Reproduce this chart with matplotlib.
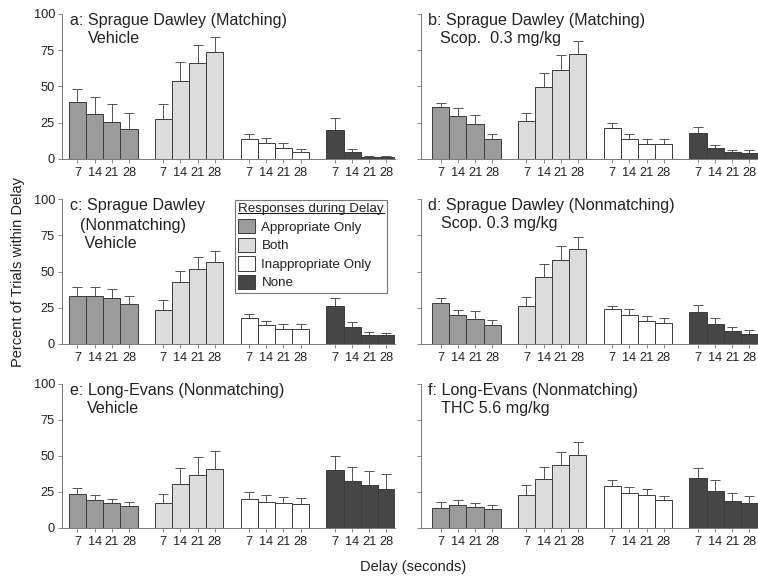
import matplotlib
matplotlib.use('Agg')
import matplotlib.pyplot as plt
import numpy as np
from matplotlib.patches import Patch
from matplotlib.lines import Line2D

plt.rcParams['font.family'] = ['Liberation Sans', 'DejaVu Sans']

delays = ['7', '14', '21', '28']
categories = ['Appropriate Only', 'Both', 'Inappropriate Only', 'None']
colors = ['#9b9b9b', '#dcdcdc', '#ffffff', '#464646']

titles = [['a: Sprague Dawley (Matching)', 'Vehicle'],
          ['b: Sprague Dawley (Matching)', 'Scop.  0.3 mg/kg'],
          ['c: Sprague Dawley', '(Nonmatching)', ' Vehicle'],
          ['d: Sprague Dawley (Nonmatching)', 'Scop. 0.3 mg/kg'],
          ['e: Long-Evans (Nonmatching)', 'Vehicle'],
          ['f: Long-Evans (Nonmatching)', 'THC 5.6 mg/kg']]
indents = [18, 12, 10, 13, 17, 13]

# mean values, per panel: [appropriate, both, inappropriate, none] x delays
means_a = [[39, 31.2, 25.7, 20.9], [27.5, 53.9, 66, 73.6], [13.8, 11, 7.6, 4.8], [20.2, 4.6, 1.5, 1.2]]
errs_a = [[9.4, 11.9, 12.1, 10.8], [10.3, 13.3, 12.4, 10.6], [3.2, 3.7, 3.4, 2.1], [7.8, 2.3, 0.8, 0.6]]
means_b = [[35.6, 29.4, 24.3, 13.5], [25.9, 49.8, 61.2, 72.2], [21.6, 14, 10.6, 10.3], [17.9, 7.3, 4.8, 4.4]]
errs_b = [[2.7, 5.5, 6, 3.7], [6, 9.6, 10.6, 9], [3.4, 3.2, 2.9, 3.2], [4.3, 2.6, 1.6, 2]]
means_c = [[33.1, 33.1, 32, 27.4], [23.7, 42.5, 51.5, 56.8], [17.7, 13.1, 10.6, 10.3], [26.4, 11.7, 6.2, 6]]
errs_c = [[6.2, 5.9, 5.9, 5.9], [6.9, 8.1, 8.3, 7.3], [2.8, 2.8, 3, 3.3], [5.1, 3.5, 1.8, 1.8]]
means_d = [[28.3, 20, 17.5, 13.1], [26, 46, 57.7, 65.3], [23.9, 20.2, 15.9, 14.3], [22.3, 14, 9, 6.9]]
errs_d = [[3.2, 3.2, 5, 3.5], [6.2, 9.2, 9.9, 8.7], [2.1, 3.7, 3.2, 3.6], [4.8, 3.9, 2.7, 3]]
means_e = [[23.3, 19.4, 17.1, 15.5], [17.3, 30.7, 37, 41.3], [20.1, 18.2, 17.3, 16.6], [40, 32.3, 29.6, 27.3]]
errs_e = [[4.2, 3.2, 3, 2.5], [6.3, 10.9, 12.2, 12.5], [4.6, 4.7, 3.9, 4.4], [9.9, 10.4, 10.1, 10.1]]
means_f = [[13.9, 15.9, 14.8, 13.4], [23.1, 33.9, 43.6, 50.6], [29.3, 24.5, 22.9, 19.2], [34.4, 25.9, 19, 17.1]]
errs_f = [[4.3, 3.5, 2.5, 2.8], [6.7, 8.6, 9.1, 9.2], [4, 4.1, 4.1, 3.2], [7.2, 7.1, 5.2, 5.1]]

panel_means = [means_a, means_b, means_c, means_d, means_e, means_f]
panel_errs = [errs_a, errs_b, errs_c, errs_d, errs_e, errs_f]

fig = plt.figure(figsize=(7.58, 5.8), dpi=100)

col_x = [(62, 333), (421, 337)]
row_y = [(14, 159), (199, 344), (384, 528)]
W, H = 758.0, 580.0

edge = '#3c3c3c'
spine_c = '#777777'
txt_c = '#222222'
axes = []
for p in range(6):
    r, c = p // 2, p % 2
    x0, w = col_x[c]
    top, bot = row_y[r]
    ax = fig.add_axes([x0 / W, 1 - bot / H, w / W, (bot - top) / H])
    axes.append(ax)
    xlim_left = -0.9 if c == 0 else -1.15
    centers = []
    for g in range(4):
        xs = np.arange(4) + g * 5
        centers.extend(xs)
        ax.bar(xs, panel_means[p][g], width=1.0, color=colors[g], edgecolor=edge,
               linewidth=0.7, zorder=2)
        ax.errorbar(xs, panel_means[p][g], yerr=[np.zeros(4), panel_errs[p][g]],
                    fmt='none', ecolor='#555555', elinewidth=0.7, capsize=3.5,
                    capthick=0.7, zorder=1)
    ax.set_xlim(xlim_left, 18.5)
    ax.set_ylim(0, 100)
    ax.set_yticks([0, 25, 50, 75, 100])
    ax.set_xticks(centers)
    ax.set_xticklabels(delays * 4, fontsize=9.2)
    if c == 1:
        ax.set_yticklabels([])
    else:
        ax.tick_params(axis='y', labelsize=9.2)
    ax.tick_params(axis='both', length=3, width=0.6, color=spine_c, pad=2, labelcolor=txt_c)
    ax.tick_params(axis='x', pad=3)
    for s in ['top', 'right']:
        ax.spines[s].set_visible(False)
    for s in ['left', 'bottom']:
        ax.spines[s].set_color(spine_c)
        ax.spines[s].set_linewidth(0.7)
    # title lines, first line at the left, others indented
    tx = x0 + (8 if c == 0 else 7)
    for k, line in enumerate(titles[p]):
        ty = top + 7 + k * (19 if len(titles[p]) > 2 else 17.5)
        fig.text((tx + (indents[p] if k > 0 else 0)) / W, 1 - ty / H, line,
                 fontsize=11.6, va='center', ha='left', color=txt_c)

handles = [Patch(facecolor=colors[i], edgecolor=edge, linewidth=0.7, label=categories[i])
           for i in range(4)]
leg = fig.legend(handles=handles, title='Responses during Delay', loc='upper right',
                 bbox_to_anchor=(387 / W, 1 - 200 / H), borderaxespad=0,
                 fontsize=9.6, title_fontsize=9.6,
                 frameon=True, fancybox=False, edgecolor='#555555', handlelength=1.25,
                 handleheight=1.25, handletextpad=0.5, borderpad=0.25, labelspacing=0.3,
                 alignment='left')
leg.get_frame().set_linewidth(0.8)
leg.get_title().set_color(txt_c)
for t in leg.get_texts():
    t.set_color(txt_c)

fig.canvas.draw()
tb = leg.get_title().get_window_extent()
inv = fig.transFigure.inverted()
(tx0, ty0), (tx1, ty1) = inv.transform([(tb.x0, tb.y0), (tb.x1, tb.y1)])
fig.add_artist(Line2D([tx0, tx1], [ty0 + 0.004, ty0 + 0.004], transform=fig.transFigure,
                      color=txt_c, linewidth=0.8, zorder=10))

fig.text(18 / W, 1 - 272 / H, 'Percent of Trials within Delay', rotation=90,
         ha='center', va='center', fontsize=10.5, color=txt_c)
fig.text(413 / W, 1 - 567 / H, 'Delay (seconds)', ha='center', va='center',
         fontsize=10.5, color=txt_c)

fig.savefig('out.png', dpi=100)
